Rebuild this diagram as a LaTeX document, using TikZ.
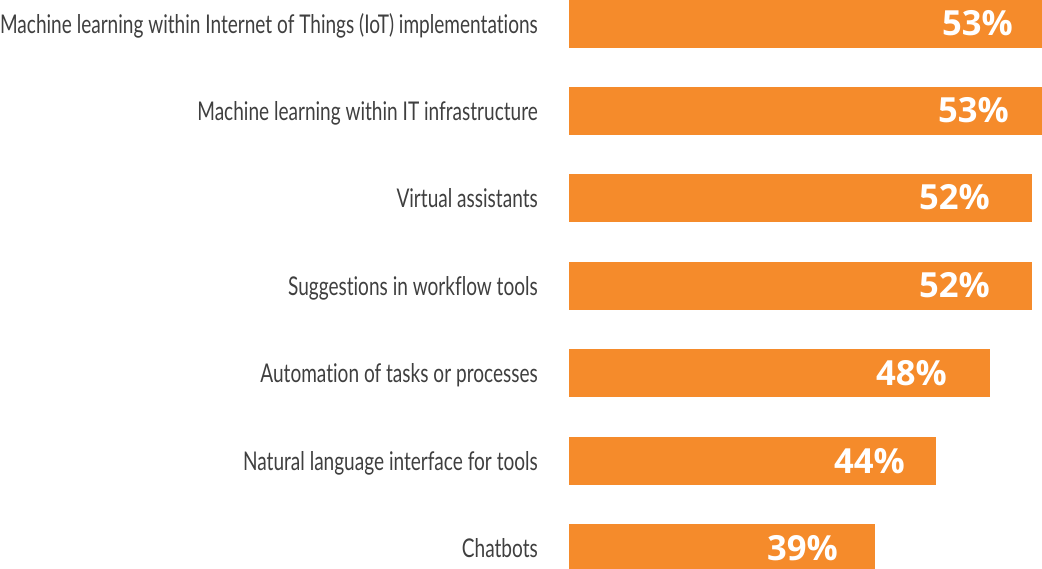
\documentclass[tikz,border=0pt]{standalone}
\usepackage{fontspec}
\usetikzlibrary{positioning}
\newfontfamily\lblfont[FakeStretch=0.738,Ligatures=NoCommon]{Lato}
\newfontfamily\pctfont{Open Sans}[BoldFont=* Bold]
\definecolor{barorange}{HTML}{F58B2B}
\definecolor{labelgray}{HTML}{3F3F3F}

\begin{document}
\begin{tikzpicture}[x=1pt,y=-1pt,
  bar/.style={fill=barorange,anchor=north west,minimum height=48pt,inner sep=0pt,outer sep=0pt},
  lbl/.style={font=\lblfont\fontsize{25.8pt}{28pt}\selectfont,text=labelgray,inner sep=0pt,text height=18.5pt,text depth=0pt},
  pct/.style={font=\pctfont\bfseries\fontsize{34.6pt}{37pt}\selectfont,text=white,inner sep=0pt,text height=24pt,text depth=0pt}]
  \useasboundingbox (0,0) rectangle (1042,569);

  \node[bar,minimum width=473pt] (iot)     at (569,0)   {};
  \node[bar,minimum width=473pt] (infra)   at (569,87)  {};
  \node[bar,minimum width=463pt] (assist)  at (569,174) {};
  \node[bar,minimum width=463pt] (suggest) at (569,262) {};
  \node[bar,minimum width=421pt] (auto)    at (569,349) {};
  \node[bar,minimum width=367pt] (nli)     at (569,437) {};
  \node[bar,minimum width=306pt] (chat)    at (569,524) {};

  \node[lbl,left=31pt of iot]     (iotl)     {Machine learning within Internet of Things (IoT) implementations};
  \node[lbl,left=31pt of infra]   (infral)   {Machine learning within IT infrastructure};
  \node[lbl,left=31pt of assist]  (assistl)  {Virtual assistants};
  \node[lbl,left=31pt of suggest] (suggestl) {Suggestions in workflow tools};
  \node[lbl,left=31pt of auto]    (autol)    {Automation of tasks or processes};
  \node[lbl,left=31pt of nli]     (nlil)     {Natural language interface for tools};
  \node[lbl,left=31pt of chat]    (chatl)    {Chatbots};

  \node[pct,left=29pt of iot.east]     (iotv)     {53\%};
  \node[pct,left=33pt of infra.east]   (infrav)   {53\%};
  \node[pct,left=42pt of assist.east]  (assistv)  {52\%};
  \node[pct,left=42pt of suggest.east] (suggestv) {52\%};
  \node[pct,left=43pt of auto.east]    (autov)    {48\%};
  \node[pct,left=31pt of nli.east]     (nliv)     {44\%};
  \node[pct,left=37pt of chat.east]    (chatv)    {39\%};
\end{tikzpicture}
\end{document}
